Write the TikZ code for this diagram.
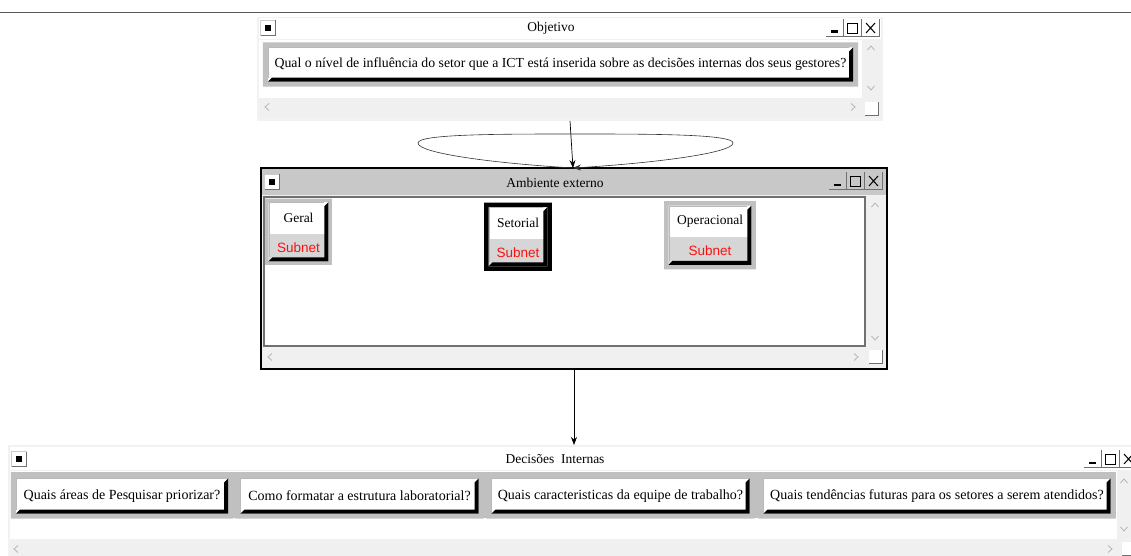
\documentclass[tikz,border=0pt]{standalone}
\usepackage{fontspec}
\setmainfont{Liberation Serif}
\newfontfamily\subnetfont{Liberation Sans}
\usetikzlibrary{arrows.meta,calc,fit,positioning}

\definecolor{winedge}{HTML}{F2F2F2}
\definecolor{panel}{HTML}{C0C0C0}
\definecolor{titlegray}{HTML}{C8C8C8}
\definecolor{scrollbg}{HTML}{F0F0F0}
\definecolor{chev}{HTML}{B4B4B4}
\definecolor{subnetbg}{HTML}{D6D6D6}
\definecolor{subnetred}{HTML}{FF1010}
\definecolor{edgegray}{HTML}{707070}

\tikzset{
  wintitle/.style={font=\fontsize{13.5}{15}\selectfont, inner sep=0pt},
  qbtn/.style={fill=white, inner sep=0pt, font=\fontsize{14}{16}\selectfont},
  netname/.style={fill=white, inner sep=0pt, font=\fontsize{13.5}{15}\selectfont},
  netsub/.style={fill=subnetbg, inner sep=0pt, text=subnetred, font=\subnetfont\fontsize{13.5}{15}\selectfont},
  link/.style={draw=black, line width=0.7pt, -{Stealth[length=8pt,width=6pt]}},
  loopline/.style={draw=black!80, line width=0.6pt}
}

% raised button look: frame ring around the node, black shadow bottom/right
\newcommand\bevel[3]{%
  \fill[#2, even odd rule] ($(#1.north west)+(-#3,-#3)$) rectangle ($(#1.south east)+(#3,#3)$)
    (#1.north west) rectangle (#1.south east);
  \fill[black] (#1.north east) -- (#1.south east) -- (#1.south west)
    -- ($(#1.south west)+(4,-4)$) -- ($(#1.south east)+(-4,-4)$)
    -- ($(#1.north east)+(-4,4)$) -- cycle;
  \draw[gray!55, line width=1pt] ($(#1.south west)+(0.5,-4)$) -- ($(#1.north west)+(0.5,0.5)$) -- ($(#1.north east)+(-4,0.5)$);
}

% window menu icon
\newcommand\sysicon[2]{%
  \fill[white] (#1,#2) rectangle ++(16,16);
  \draw[gray!40] (#1,#2+16) -- (#1,#2) -- (#1+16,#2);
  \draw[edgegray, line width=1pt] (#1+0.5,#2+15.5) -- (#1+15.5,#2+15.5) -- (#1+15.5,#2+0.5);
  \fill[black] (#1+5,#2+5) rectangle ++(6,6);
}

% minimise / maximise / close buttons
\newcommand\winctrl[3]{%
  \foreach \i in {0,1,2} {
    \fill[#3] (#1+18*\i,#2) rectangle ++(17,18);
    \draw[edgegray, line width=1pt] (#1+18*\i,#2+17.5) -- ++(17,0) -- ++(0,-17.5);
  }
  \fill[black] (#1+5,#2+11.5) rectangle ++(7,2.5);
  \draw[black, line width=0.8pt] (#1+21.5,#2+4) rectangle ++(10,10);
  \draw[black, line width=1.4pt] (#1+21.5,#2+4.6) -- ++(10,0);
  \draw[black, line width=1pt] (#1+40,#2+4) -- ++(9,10) (#1+40,#2+14) -- ++(9,-10);
}

\newcommand\chevup[2]{\draw[chev, line width=0.8pt] (#1-3.5,#2+2) -- (#1,#2-2) -- (#1+3.5,#2+2);}
\newcommand\chevdown[2]{\draw[chev, line width=0.8pt] (#1-3.5,#2-2) -- (#1,#2+2) -- (#1+3.5,#2-2);}
\newcommand\chevleft[2]{\draw[chev, line width=0.8pt] (#1+2,#2-3.5) -- (#1-2,#2) -- (#1+2,#2+3.5);}
\newcommand\chevright[2]{\draw[chev, line width=0.8pt] (#1-2,#2-3.5) -- (#1+2,#2) -- (#1-2,#2+3.5);}
\newcommand\cornerbox[2]{%
  \fill[white] (#1,#2) rectangle ++(14,14);
  \draw[edgegray, line width=1pt] (#1,#2+13.5) -- (#1+13.5,#2+13.5) -- (#1+13.5,#2);
}

\begin{document}
\begin{tikzpicture}[x=1pt,y=-1pt]
\useasboundingbox (0,0) rectangle (1131,556);
\clip (0,0) rectangle (1131,556);
\fill[white] (0,0) rectangle (1131,556);

% rule across the top
\draw[gray!70!black, line width=0.9pt] (0,12.5) -- (1131,12.5);

% ---------------- window: Objetivo ----------------
\fill[winedge] (257,17) rectangle (883,121);
\fill[white] (259,18) rectangle (881,39);
\fill[white] (259,40) rectangle (862,98);
\fill[scrollbg] (862,40) rectangle (881,98);
\fill[scrollbg] (259,98) rectangle (881,118);
\sysicon{260}{20}
\node[wintitle] (objtitle) at (551,28) {Objetivo};
\winctrl{826}{19}{white}
\chevup{871}{48}
\chevdown{871}{88}
\chevleft{267}{107}
\chevright{853}{107}
\cornerbox{865}{102}

\node[qbtn, font=\fontsize{13.8}{16}\selectfont, minimum width=585pt, minimum height=34pt] (q0) at (560.5,64.5)
  {Qual o nível de influência do setor que a ICT está inserida sobre as decisões internas dos seus gestores?};
\bevel{q0}{panel}{5}

\coordinate (objbot) at (570,121);

% ---------------- window: Ambiente externo ----------------
\fill[scrollbg] (261,168) rectangle (887,369);
\fill[titlegray] (262,169) rectangle (886,194.5);
\fill[white] (263,196) rectangle (866,347);
\draw[edgegray, line width=2pt] (264,197) rectangle (865,346);
\draw[black, line width=2pt] (261,168) rectangle (887,369);
\sysicon{264}{174}
\node[wintitle] (ambtitle) at (555,183) {Ambiente externo};
\winctrl{829}{172}{titlegray}
\chevup{875}{205}
\chevdown{875}{338}
\chevleft{270}{357}
\chevright{856}{357}
\cornerbox{869}{350}

\coordinate (ambtop) at (573,168);
\coordinate (ambbot) at (574,369);

% sub-networks
\node[netname, minimum width=59pt, minimum height=31pt] (geraln) at (298.5,218) {Geral};
\node[netsub, minimum width=59pt, minimum height=27pt, below=0pt of geraln] (gerals) {Subnet};
\node[fit=(geraln)(gerals), inner sep=0pt] (geral) {};
\bevel{geral}{panel}{3.5}

\node[netname, minimum width=58pt, minimum height=31pt] (setn) at (518,223) {Setorial};
\node[netsub, minimum width=58pt, minimum height=27pt, below=0pt of setn] (sets) {Subnet};
\node[fit=(setn)(sets), inner sep=0pt] (setorial) {};
\bevel{setorial}{black}{4.5}

\node[netname, minimum width=82pt, minimum height=31pt] (opn) at (710,221.5) {Operacional};
\node[netsub, minimum width=82pt, minimum height=27pt, below=0pt of opn] (ops) {Subnet};
\node[fit=(opn)(ops), inner sep=0pt] (operacional) {};
\bevel{operacional}{panel}{4.5}

% ---------------- window: Decisões Internas ----------------
\fill[winedge] (8,445) rectangle (1135,560);
\fill[white] (10,447) rectangle (1135,470);
\fill[white] (10,471) rectangle (1117,539);
\fill[scrollbg] (1117,471) rectangle (1135,539);
\fill[scrollbg] (10,540) rectangle (1135,560);
\sysicon{11}{451}
\node[wintitle] (dectitle) at (555,459) {Decisões\ \ Internas};
\winctrl{1084}{450}{white}
\chevup{1124}{481}
\chevdown{1124}{529}
\chevleft{16}{549}
\chevright{1110}{549}
\cornerbox{1122}{542}

\fill[panel] (11,472) rectangle (1116,518);
\node[qbtn, minimum width=212pt, minimum height=35pt] (d1) at (122,496) {Quais áreas de Pesquisar priorizar?};
\bevel{d1}{panel}{5}
\node[qbtn, minimum width=238pt, minimum height=35pt] (d2) at (359.5,496) {Como formatar a estrutura laboratorial?};
\bevel{d2}{panel}{5}
\node[qbtn, minimum width=258pt, minimum height=35pt] (d3) at (620.5,496) {Quais caracteristicas da equipe de trabalho?};
\bevel{d3}{panel}{5}
\node[qbtn, minimum width=347pt, minimum height=35pt] (d4) at (937,496) {Quais tendências futuras para os setores a serem atendidos?};
\bevel{d4}{panel}{5}

\coordinate (dectop) at (574,445);

% ---------------- connectors ----------------
\draw[link] (objbot) -- (ambtop);
\draw[link] (ambbot) -- (dectop);
\draw[loopline, -{Stealth[length=8pt,width=6pt]}]
  (ambtop) .. controls (490,163) and (418,153) .. (418,143)
  .. controls (418,134) and (500,134) .. (575,134)
  .. controls (650,134) and (733,134) .. (733,143)
  .. controls (733,153) and (655,163) .. (ambtop);
\end{tikzpicture}
\end{document}
